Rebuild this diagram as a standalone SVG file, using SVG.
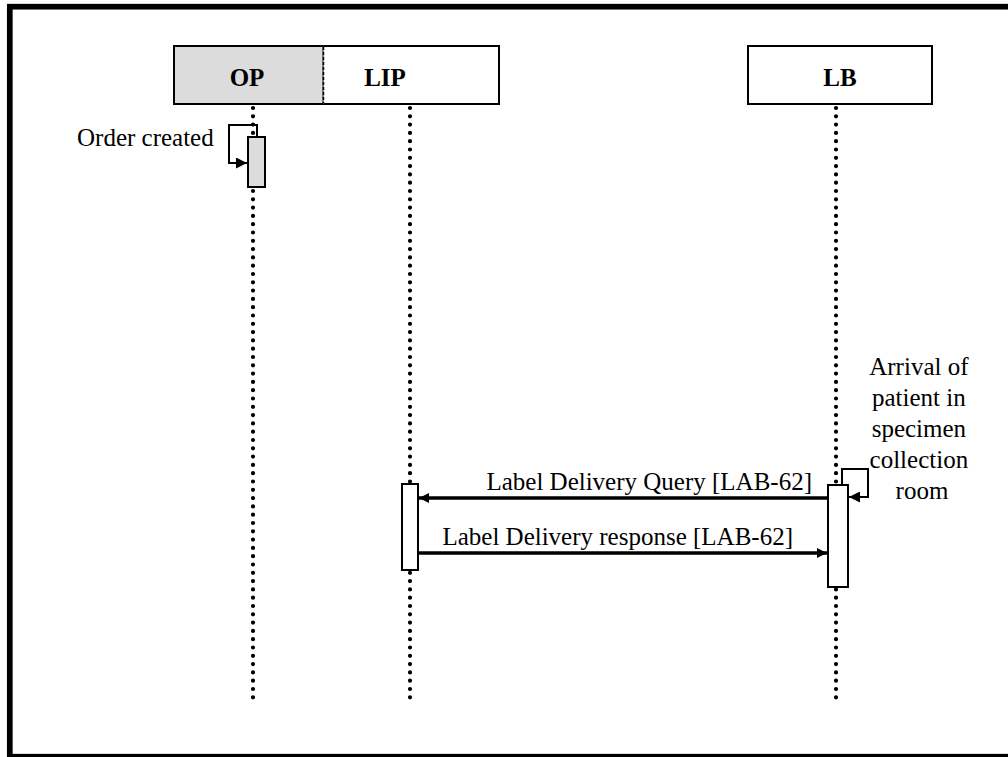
<svg xmlns="http://www.w3.org/2000/svg" width="1008" height="757" viewBox="0 0 1008 757">
<style>
.lbl{font-family:"Liberation Serif","Times New Roman",serif;font-size:25px;fill:#000}
.hdr{font-family:"Liberation Serif","Times New Roman",serif;font-size:25px;font-weight:bold;fill:#000;text-anchor:middle}
.life{stroke:#000;stroke-width:4.2;stroke-linecap:round;stroke-dasharray:0 8.3;fill:none}
.box{stroke:#000;stroke-width:2;}
.msg{stroke:#000;stroke-width:3.5;fill:none}
.loop{stroke:#000;stroke-width:2;fill:none}
</style>
<defs>
<marker id="ah" viewBox="0 0 10 10" refX="10" refY="5" markerWidth="10" markerHeight="10" markerUnits="userSpaceOnUse" orient="auto">
<path d="M0,0 L10,5 L0,10 Z" fill="#000"/>
</marker>
<marker id="ahs" viewBox="0 0 10 10" refX="10" refY="5" markerWidth="11" markerHeight="11" markerUnits="userSpaceOnUse" orient="auto">
<path d="M0,0 L10,5 L0,10 Z" fill="#000"/>
</marker>
</defs>
<rect width="1008" height="757" fill="#fff"/>
<rect x="9.8" y="6.7" width="1010" height="750" fill="none" stroke="#000" stroke-width="5.7"/>

<g id="lifelines">
<line class="life" x1="253" y1="108" x2="253" y2="705"/>
<line class="life" x1="410" y1="108" x2="410" y2="705"/>
<line class="life" x1="836" y1="108" x2="836" y2="705"/>
</g>

<g id="OP">
<rect x="174" y="46" width="149.5" height="58" fill="#dcdcdc" class="box"/>
<text class="hdr" x="247" y="86">OP</text>
</g>
<g id="LIP">
<rect x="323.5" y="46" width="175.5" height="58" fill="#fff" stroke="none"/>
<path d="M323.5,46 H499 V104 H323.5" fill="none" class="box"/>
<line x1="323.5" y1="47" x2="323.5" y2="103" stroke="#000" stroke-width="1.5" stroke-dasharray="3 2"/>
<text class="hdr" x="385" y="86">LIP</text>
</g>
<g id="LB">
<rect x="748" y="46" width="184" height="58" fill="#fff" class="box"/>
<text class="hdr" x="840" y="86">LB</text>
</g>

<g id="activations">
<rect x="248" y="137" width="17" height="50" fill="#dcdcdc" class="box"/>
<rect x="402" y="484" width="16" height="86" fill="#fff" class="box"/>
<rect x="828" y="485" width="20" height="102" fill="#fff" class="box"/>
</g>

<g id="connectors">
<path class="loop" d="M257,137 V125 H229 V163 H247" marker-end="url(#ahs)"/>
<path class="loop" d="M842,485 V469 H868 V497 H849" marker-end="url(#ahs)"/>
<line class="msg" x1="828" y1="498" x2="419" y2="498" marker-end="url(#ah)"/>
<line class="msg" x1="418" y1="553" x2="827" y2="553" marker-end="url(#ah)"/>
</g>

<g id="labels">
<text class="lbl" x="77" y="146">Order created</text>
<text class="lbl" x="812" y="490" text-anchor="end">Label Delivery Query [LAB-62]</text>
<text class="lbl" x="793" y="545" text-anchor="end">Label Delivery response [LAB-62]</text>
<text class="lbl" text-anchor="middle">
<tspan x="922" y="375">Arrival of</tspan>
<tspan x="922" y="406">patient in</tspan>
<tspan x="922" y="437">specimen</tspan>
<tspan x="922" y="468">collection</tspan>
<tspan x="922" y="499">room</tspan>
</text>
</g>
</svg>
